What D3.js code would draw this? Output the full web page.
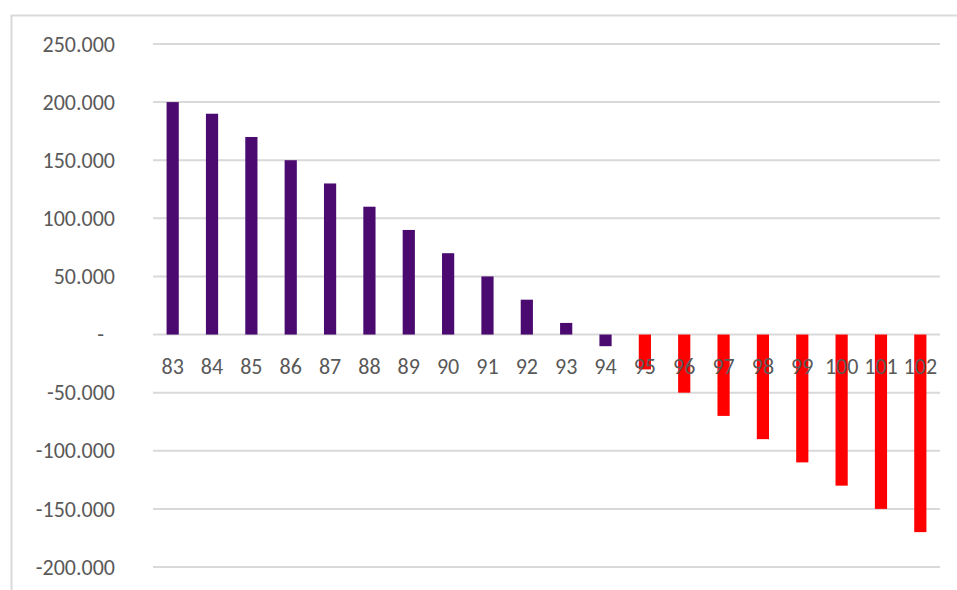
<!DOCTYPE html>
<html>
<head>
<meta charset="utf-8">
<script src="https://cdn.jsdelivr.net/npm/d3@7"></script>
<style>
  html, body { margin: 0; padding: 0; background: #fff; }
  svg { display: block; }
</style>
</head>
<body>
<svg id="chart" width="957" height="590"></svg>
<script>
// Categories along the x axis
const categories = ["83","84","85","86","87","88","89","90","91","92",
                    "93","94","95","96","97","98","99","100","101","102"];
// Bar values
const values = [200000,190000,170000,150000,130000,110000,90000,70000,50000,30000,
                10000,-10000,-30000,-50000,-70000,-90000,-110000,-130000,-150000,-170000];
// Series colour per category group
const seriesColor = ["#4b0a70","#4b0a70","#4b0a70","#4b0a70","#4b0a70","#4b0a70",
                     "#4b0a70","#4b0a70","#4b0a70","#4b0a70","#4b0a70","#4b0a70",
                     "#ff0000","#ff0000","#ff0000","#ff0000","#ff0000","#ff0000","#ff0000","#ff0000"];
// Value axis ticks
const yTicks = [250000,200000,150000,100000,50000,0,-50000,-100000,-150000,-200000];

const svg = d3.select("#chart");
const fontFamily = "Carlito, 'Open Sans', 'Liberation Sans', sans-serif";

// chart frame
svg.append("rect")
  .attr("x", 11.5).attr("y", 15.5)
  .attr("width", 1000).attr("height", 700)
  .attr("fill", "#fff")
  .attr("stroke", "#d9d9d9").attr("stroke-width", 2);

const plot = { left: 153, right: 940, top: 44, bottom: 567 };

const x = d3.scaleBand()
  .domain(categories)
  .range([plot.left, plot.right])
  .paddingInner(0.69)
  .paddingOuter(0.345);

const y = d3.scaleLinear()
  .domain([-200000, 250000])
  .range([plot.bottom, plot.top]);

const fmt = v => v === 0 ? "-" : d3.format(",")(v).replace(/,/g, ".").replace("−", "-");

// gridlines
svg.append("g")
  .selectAll("line")
  .data(yTicks)
  .join("line")
  .attr("x1", plot.left).attr("x2", plot.right)
  .attr("y1", d => y(d)).attr("y2", d => y(d))
  .attr("stroke", "#d9d9d9").attr("stroke-width", 2);

// y tick labels
svg.append("g")
  .selectAll("text")
  .data(yTicks)
  .join("text")
  .attr("x", d => d === 0 ? 104 : 115)
  .attr("y", d => y(d))
  .attr("dy", "0.35em")
  .attr("text-anchor", "end")
  .attr("font-family", fontFamily)
  .attr("font-size", 22)
  .attr("fill", "#595959")
  .text(fmt);

// bars
svg.append("g")
  .selectAll("rect")
  .data(values)
  .join("rect")
  .attr("x", (d, i) => x(categories[i]))
  .attr("width", x.bandwidth())
  .attr("y", d => y(Math.max(0, d)))
  .attr("height", d => Math.abs(y(d) - y(0)))
  .attr("fill", (d, i) => seriesColor[i]);

// category labels
svg.append("g")
  .selectAll("text")
  .data(categories)
  .join("text")
  .attr("x", d => x(d) + x.bandwidth() / 2)
  .attr("y", y(0) + 39)
  .attr("text-anchor", "middle")
  .attr("font-family", fontFamily)
  .attr("font-size", 22)
  .attr("fill", "#595959")
  .text(d => d);
</script>
</body>
</html>
